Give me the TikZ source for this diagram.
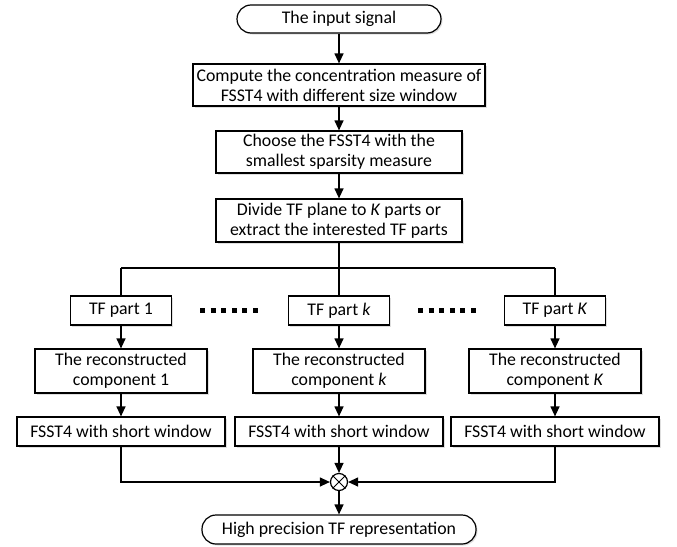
\documentclass[tikz,border=0pt]{standalone}
\usepackage{fontspec}
\setmainfont{Carlito}
\usetikzlibrary{arrows.meta,shadows,positioning}
\begin{document}
\begin{tikzpicture}[x=1pt,y=1pt,
  font=\fontsize{17.8}{20}\selectfont,
  line width=1.2pt,
  box/.style={draw, fill=white, align=center, inner sep=0pt,
    drop shadow={shadow xshift=1.5pt, shadow yshift=-1.5pt, opacity=0.25, fill=gray}},
  term/.style={box, rounded corners=14pt},
  arr/.style={-{Triangle[length=10pt,width=9pt]}},
  dotsline/.style={line width=5pt, dash pattern=on 5pt off 5.6pt}
]
\useasboundingbox (0,0) rectangle (677,-546);
% terminals
\node[term, minimum width=204, minimum height=28] (in) at (339,-19) {The input signal};
\node[box, minimum width=292, minimum height=42] (b2) at (339,-85) {Compute the concentration measure of\\FSST4 with different size window};
\node[box, minimum width=246, minimum height=42] (b3) at (339,-152) {Choose the FSST4 with the\\smallest sparsity measure};
\node[box, minimum width=246, minimum height=43] (b4) at (339,-220.5) {Divide TF plane to \textit{K} parts or\\extract the interested TF parts};
% parts
\node[box, minimum width=101, minimum height=29] (p1) at (121,-310.5) {TF part 1};
\node[box, minimum width=101, minimum height=29] (pk) at (339,-310.5) {TF part \textit{k}};
\node[box, minimum width=101, minimum height=29] (pK) at (555,-310.5) {TF part \textit{K}};
\node[box, minimum width=172, minimum height=44] (c1) at (121,-371) {The reconstructed\\component 1};
\node[box, minimum width=172, minimum height=44] (ck) at (339,-371) {The reconstructed\\component \textit{k}};
\node[box, minimum width=172, minimum height=44] (cK) at (555,-371) {The reconstructed\\component \textit{K}};
\node[box, minimum width=208, minimum height=29] (f1) at (121,-431.5) {FSST4 with short window};
\node[box, minimum width=208, minimum height=29] (fk) at (339,-431.5) {FSST4 with short window};
\node[box, minimum width=208, minimum height=29] (fK) at (555,-431.5) {FSST4 with short window};
\node[draw, circle, minimum size=17, inner sep=0pt, fill=white] (x) at (339,-482) {};
\draw[line width=1pt] (x.45) -- (x.225) (x.135) -- (x.315);
\node[term, minimum width=274, minimum height=29] (out) at (339,-529.5) {High precision TF representation};
% branch coordinates
\coordinate (br) at (339,-268);
\coordinate (brL) at (121,-268);
\coordinate (brR) at (555,-268);
\coordinate (d1a) at (200,-310.5);
\coordinate (d1b) at (258.5,-310.5);
\coordinate (d2a) at (418,-310.5);
\coordinate (d2b) at (476.5,-310.5);
% connectors
\draw[arr] (in) -- (b2);
\draw[arr] (b2) -- (b3);
\draw[arr] (b3) -- (b4);
\draw (b4) -- (br);
\draw (brL) -- (brR);
\draw (brL) -- (p1);
\draw (br) -- (pk);
\draw (brR) -- (pK);
\draw[arr] (p1) -- (c1);
\draw[arr] (pk) -- (ck);
\draw[arr] (pK) -- (cK);
\draw[arr] (c1) -- (f1);
\draw[arr] (ck) -- (fk);
\draw[arr] (cK) -- (fK);
\draw[arr] (f1) |- (x);
\draw[arr] (fK) |- (x);
\draw[arr] (fk) -- (x);
\draw[arr] (x) -- (out);
\draw[dotsline] (d1a) -- (d1b);
\draw[dotsline] (d2a) -- (d2b);
\end{tikzpicture}
\end{document}
